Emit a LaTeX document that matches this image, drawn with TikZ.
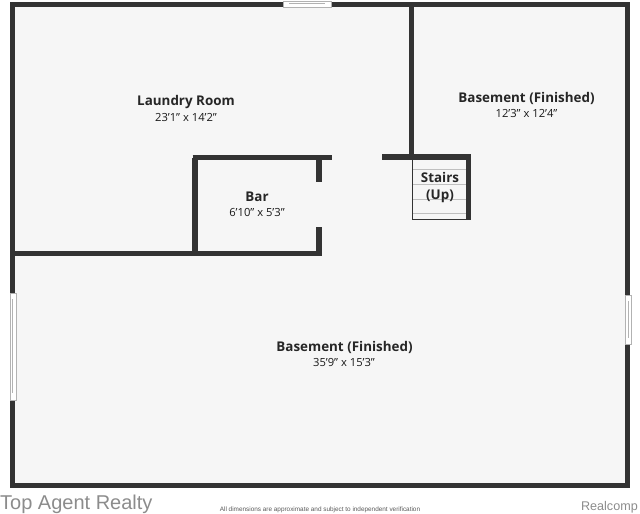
\documentclass[tikz,border=0pt]{standalone}
\usepackage{fontspec}
\setmainfont{Open Sans}[Ligatures=ResetAll]
\newfontfamily\footfont{Liberation Sans}
\usepackage{tikz}
\usetikzlibrary{positioning,calc}
\definecolor{wallgray}{HTML}{333333}
\definecolor{floorgray}{HTML}{F6F6F6}
\tikzstyle{line} = [draw=wallgray,line width=5.5pt]
\tikzstyle{thinline} = [draw=wallgray,line width=1.2pt]
\tikzstyle{tread} = [draw=black!25,line width=0.7pt]
\tikzstyle{window} = [draw=black!30,fill=white,line width=0.5pt]
\tikzstyle{roomname} = [font=\fontsize{13.4}{15}\selectfont\bfseries,text=black!85,inner sep=0pt]
\tikzstyle{roomsize} = [font=\fontsize{11.2}{13}\selectfont,text=black!90,inner sep=0pt]

\begin{document}
\begin{tikzpicture}[x=1pt,y=-1pt]
                \useasboundingbox (0,0) rectangle (640,514);
                \fill[floorgray] (12,4) rectangle (628,486);
                % outer walls
                \path [line] (12.5,293) -- (12.5,4.5) -- (627.5,4.5) -- (627.5,295);
                \path [line] (12.5,400) -- (12.5,485.5) -- (627.5,485.5) -- (627.5,344);
                % windows
                \draw[window] (283,1.5) rectangle (331,7.5);
                \draw[window] (289,3) -- (325,3);
                \draw[window] (10,293) rectangle (16,400);
                \draw[window] (12,299) -- (12,393);
                \draw[window] (625,295) rectangle (631,344);
                \draw[window] (628,301) -- (628,338);
                % inner walls
                \path [line] (411.5,4.5) -- (411.5,157);
                \path [line] (15,253.5) -- (319,253.5) -- (319,227);
                \path [line] (195,253.5) -- (195,157.5);
                \path [line] (192.5,157.5) -- (332,157.5);
                \path [line] (319,157.5) -- (319,182);
                % stairs
                \foreach \y in {169,184,199,213}
                    \draw[tread] (413,\y) -- (466,\y);
                \path [thinline] (412.5,157) -- (412.5,219.5) -- (468,219.5);
                \path [line] (382,157) -- (468.5,157) -- (468.5,220);
                % labels
                \node[roomname] (laundry) at (186,102) {Laundry Room};
                \node[roomsize] (laundrysize) at (186,117) {23'1" x 14'2"};
                \node[roomname] (upper) at (526.5,98) {Basement (Finished)};
                \node[roomsize] (uppersize) at (526.5,113) {12'3" x 12'4"};
                \node[roomname] (bar) at (257,196.5) {Bar};
                \node[roomsize] (barsize) at (257,212) {6'10" x 5'3"};
                \node[roomname] (stairs) at (440,177) {Stairs};
                \node[roomname] (up) at (440,196) {(Up)};
                \node[roomname] (lower) at (344.5,347.5) {Basement (Finished)};
                \node[roomsize] (lowersize) at (344,362) {35'9" x 15'3"};
                % footer
                \node[font=\footfont\fontsize{20}{22}\selectfont,text=black!45,anchor=west,inner sep=0pt] (agent) at (0,504) {Top Agent Realty};
                \node[font=\footfont\fontsize{6.4}{7}\selectfont,text=black!65,inner sep=0pt] (note) at (320,509.5) {All dimensions are approximate and subject to independent verification};
                \node[font=\footfont\fontsize{12.6}{14}\selectfont,text=black!45,anchor=east,inner sep=0pt] (mls) at (638,507) {Realcomp};
            \end{tikzpicture}
\end{document}
